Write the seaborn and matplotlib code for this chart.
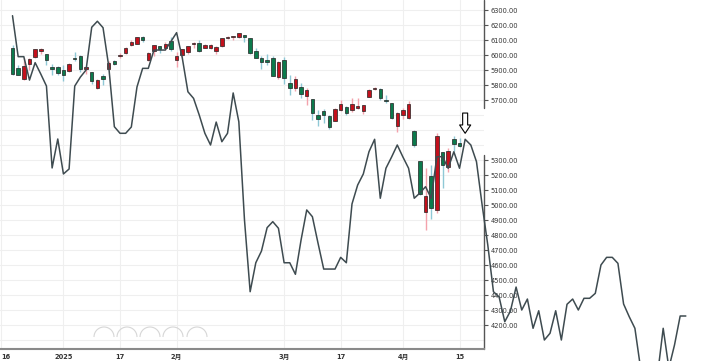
import numpy as np
import pandas as pd
import matplotlib
matplotlib.use("Agg")
import matplotlib.pyplot as plt
import seaborn as sns
from matplotlib.patches import Arc

# daily candles, 2024-12-18 .. 2025-04-15
opens = [6047, 5912, 5842, 5941, 5985, 6025, 6006, 5921, 5920, 5903,
         5892, 5982, 5993, 5910, 5890, 5782, 5859, 5905, 5962, 5995,
         6014, 6069, 6076, 6121, 5969, 6026, 6057, 6050, 6096, 5969,
         5998, 6020, 6072, 6083, 6049, 6049, 6025, 6061, 6115, 6121,
         6117, 6134, 6114, 6026, 5982, 5970, 5981, 5856, 5969, 5811,
         5781, 5786, 5726, 5705, 5603, 5624, 5595, 5563, 5635, 5655,
         5632, 5646, 5630, 5719, 5776, 5771, 5696, 5679, 5527, 5598,
         5580, 5492, 5292, 4953, 5194, 4966, 5353, 5256, 5441, 5411]
highs = [6070, 5935, 5982, 5978, 6041, 6050, 6006, 5941, 5929, 5936,
         5949, 6022, 6000, 5927, 5890, 5837, 5871, 5960, 5965, 6013,
         6051, 6100, 6119, 6128, 6018, 6070, 6063, 6086, 6120, 6022,
         6042, 6062, 6084, 6101, 6073, 6076, 6063, 6116, 6127, 6129,
         6147, 6135, 6114, 6044, 5992, 6009, 5994, 5959, 5987, 5865,
         5861, 5812, 5783, 5705, 5636, 5642, 5598, 5645, 5703, 5659,
         5715, 5711, 5670, 5775, 5786, 5777, 5732, 5681, 5623, 5650,
         5695, 5500, 5292, 5247, 5268, 5481, 5353, 5381, 5459, 5450]
lows = [5867, 5866, 5832, 5902, 5982, 6008, 5933, 5869, 5868, 5829,
        5888, 5960, 5890, 5874, 5809, 5773, 5802, 5905, 5935, 5979,
        6007, 6062, 6074, 6088, 5962, 5994, 6016, 6035, 6030, 5923,
        5990, 6007, 6047, 6020, 6045, 6043, 6004, 6051, 6107, 6100,
        6112, 6090, 6009, 5981, 5909, 5933, 5858, 5837, 5810, 5732,
        5763, 5711, 5667, 5565, 5529, 5547, 5505, 5563, 5628, 5602,
        5622, 5641, 5604, 5719, 5765, 5702, 5678, 5573, 5489, 5574,
        5572, 5390, 5069, 4835, 4910, 4950, 5115, 5221, 5358, 5386]
closes = [5872, 5867, 5930, 5974, 6040, 6037, 5970, 5907, 5882, 5869,
          5942, 5975, 5909, 5918, 5827, 5836, 5842, 5950, 5937, 5997,
          6049, 6086, 6119, 6101, 6012, 6067, 6039, 6071, 6041, 5994,
          6037, 6061, 6083, 6026, 6066, 6068, 6052, 6115, 6115, 6129,
          6144, 6118, 6013, 5983, 5955, 5956, 5861, 5955, 5849, 5778,
          5842, 5739, 5770, 5615, 5572, 5599, 5522, 5639, 5675, 5615,
          5675, 5663, 5668, 5768, 5777, 5712, 5693, 5581, 5612, 5633,
          5671, 5397, 5074, 5062, 4982, 5457, 5268, 5363, 5406, 5396]

# overlay line, one point per session (keeps going past the last candle)
line_vals = [6262, 5989, 5989, 5833, 5949, 5873, 5793, 5247, 5440, 5207,
             5240, 5793, 5853, 5900, 6185, 6225, 6182, 5927, 5522, 5478,
             5478, 5520, 5787, 5911, 5911, 6033, 6033, 6033, 6090, 6149,
             5982, 5755, 5711, 5600, 5478, 5400, 5553, 5422, 5478, 5747,
             5555, 4900, 4422, 4615, 4693, 4849, 4889, 4845, 4615, 4615,
             4538, 4767, 4967, 4922, 4745, 4573, 4573, 4573, 4651, 4615,
             5007, 5133, 5207, 5355, 5438, 5045, 5245, 5320, 5400, 5320,
             5245, 5045, 5080, 5122, 5045, 5322, 5322, 5245, 5355, 5245,
             5438, 5400, 5289, 5000, 4733, 4422, 4387, 4222, 4293, 4453,
             4300, 4373, 4178, 4295, 4100, 4145, 4295, 4100, 4338, 4373,
             4300, 4378, 4378, 4411, 4600, 4651, 4651, 4611, 4340, 4255,
             4178, 3913, 3833, 3800, 3867, 4178, 3913, 4067, 4260, 4260]

tick_idx = [-2, 9, 19, 29, 48, 58, 69, 79]
tick_labels = ["16", "2025", "17", "2月", "3月", "17", "4月", "15"]
price_ticks = list(range(4100, 6400, 100))
hidden_ticks = [4100, 5400, 5500, 5600]
marked_day = 80

df = pd.DataFrame({"open": opens, "high": highs, "low": lows, "close": closes})
df["idx"] = np.arange(len(df))
df["up"] = df["close"] >= df["open"]

sns.set_theme(style="white")
plt.rcParams["font.family"] = ["DejaVu Sans", "Noto Sans CJK SC"]

fig = plt.figure(figsize=(7.06, 3.61), dpi=100)
ax = fig.add_axes([0, 12 / 361, 484 / 706, 349 / 361])

# candles
wick_col = np.where(df["up"], "#f4a2ac", "#8fc8d6")
body_col = np.where(df["up"], "#c3101c", "#0b7a4c")
ax.vlines(df["idx"], df["low"], df["high"], colors=wick_col, lw=1.0, zorder=2)
body_h = np.maximum((df["close"] - df["open"]).abs(), 4)
body_b = np.minimum(df["open"], df["close"])
ax.bar(df["idx"], body_h, bottom=body_b, width=0.62, color=body_col,
       edgecolor="#222222", linewidth=0.5, zorder=3)

# overlay line
sns.lineplot(x=np.arange(len(line_vals)), y=line_vals, ax=ax, color="#3e4b50",
             lw=1.1, zorder=4, clip_on=False, legend=False)

ax.set_xlim(-2.21, 83.33)
ax.set_ylim(4040, 6366.7)
ax.set_xlabel("")
ax.set_ylabel("")

ax.set_xticks(tick_idx)
ax.set_xticklabels(tick_labels, fontweight="bold")
# first label sits on the left edge
ax.get_xticklabels()[0].set_horizontalalignment("left")
ax.yaxis.tick_right()
ax.set_yticks(price_ticks)
ax.set_yticklabels(["" if p in hidden_ticks else f"{p:.2f}" for p in price_ticks])
for p, t in zip(price_ticks, ax.yaxis.get_major_ticks()):
    if p in hidden_ticks:
        t.tick2line.set_visible(False)

ax.tick_params(axis="y", direction="out", length=3, width=0.8, colors="#555555",
               labelsize=4.8, labelcolor="#333333", pad=1.5)
ax.tick_params(axis="x", direction="out", length=2, width=0.8, colors="#777777",
               labelsize=4.8, labelcolor="#333333", pad=1.5)

ax.grid(True, color="#efefef", lw=0.8)
ax.set_axisbelow(True)
for s in ["top", "left", "right"]:
    ax.spines[s].set_visible(False)
ax.spines["bottom"].set_color("#8a8a8a")
ax.spines["bottom"].set_linewidth(1.5)

# right axis line, broken like the original
ax.plot([1, 1], [0.69, 1.0], transform=ax.transAxes, color="#555555", lw=1, clip_on=False)
ax.plot([1, 1], [0.0, 0.556], transform=ax.transAxes, color="#555555", lw=1, clip_on=False)

# hollow arrow over the marked peak
tip = line_vals[marked_day] + 40
ax.annotate("", xy=(marked_day, tip), xytext=(marked_day, tip + 135),
            arrowprops=dict(arrowstyle="simple,head_length=0.6,head_width=0.8,tail_width=0.36",
                            fc="white", ec="black", lw=0.8, shrinkA=0, shrinkB=0,
                            mutation_scale=10), zorder=6)

# faint zoom buttons at the bottom
for cx in [104, 127, 150, 173, 197]:
    fig.patches.append(Arc((cx / 706, 1 - 337 / 361), 20 / 706, 20 / 361,
                           theta1=0, theta2=180, transform=fig.transFigure,
                           color="#d6d6d6", lw=0.8))

fig.savefig("out.png", dpi=100)
